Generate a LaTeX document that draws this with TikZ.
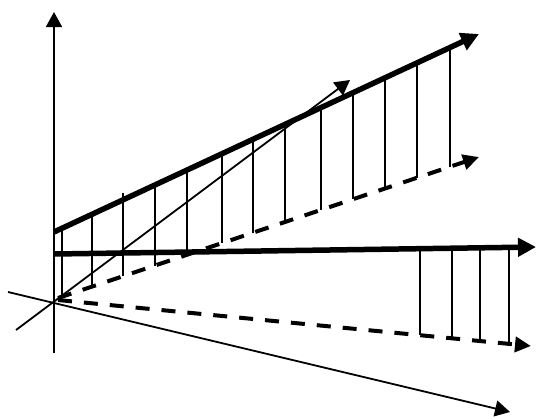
\documentclass[tikz,border=0pt]{standalone}
\usetikzlibrary{arrows.meta}
\begin{document}
\begin{tikzpicture}[x=1pt,y=-1pt,
  thinline/.style={line width=1.8pt},
  thickline/.style={line width=5.5pt},
  dashline/.style={line width=4pt, dash pattern=on 14pt off 12pt},
  droplne/.style={line width=1.8pt},
  tipthin/.style={-{Triangle[length=15pt,width=16pt]}},
  tipthick/.style={-{Triangle[length=18pt,width=18pt]}},
  tipdash/.style={-{Triangle[length=16pt,width=15pt]}}]
\useasboundingbox (0,0) rectangle (536,416);
% named end points
\coordinate (vbot) at (54,353);
\coordinate (vtop) at (54,12);
\coordinate (dgA) at (16,330);
\coordinate (dgB) at (350,80);
\coordinate (lwA) at (8,292);
\coordinate (lwB) at (510,412);
\coordinate (U0) at (54,232);
\coordinate (U1) at (479,34);
\coordinate (D0) at (58,298);
\coordinate (D1) at (479,157);
\coordinate (H0) at (54,254);
\coordinate (H1) at (536,247);
\coordinate (L0) at (58,300);
\coordinate (L1) at (531,346);
% axes
\draw[thinline,tipthin] (vbot) -- (vtop);
\draw[thinline,tipthin] (dgA) -- (dgB);
\draw[thinline,tipthin] (lwA) -- (lwB);
% upper drops
\foreach \x in {62,92,123,155,187,222,253,285,321,353,385,417,450}{
  \pgfmathsetmacro{\yu}{232-0.4659*(\x-54)}
  \pgfmathsetmacro{\yd}{298-0.3349*(\x-58)}
  \draw[droplne] (\x,\yu) -- (\x,\yd);
}
\draw[droplne] (123,193) -- (123,201);
% lower drops
\foreach \x in {420,452,480,509}{
  \pgfmathsetmacro{\yu}{254-0.01452*(\x-54)}
  \pgfmathsetmacro{\yd}{300+0.09725*(\x-58)}
  \draw[droplne] (\x,\yu) -- (\x,\yd);
}
% main lines
\draw[thickline,tipthick] (U0) -- (U1);
\draw[thickline,tipthick] (H0) -- (H1);
\draw[dashline,tipdash] (D0) -- (D1);
\draw[dashline,tipdash] (L0) -- (L1);
\end{tikzpicture}
\end{document}
